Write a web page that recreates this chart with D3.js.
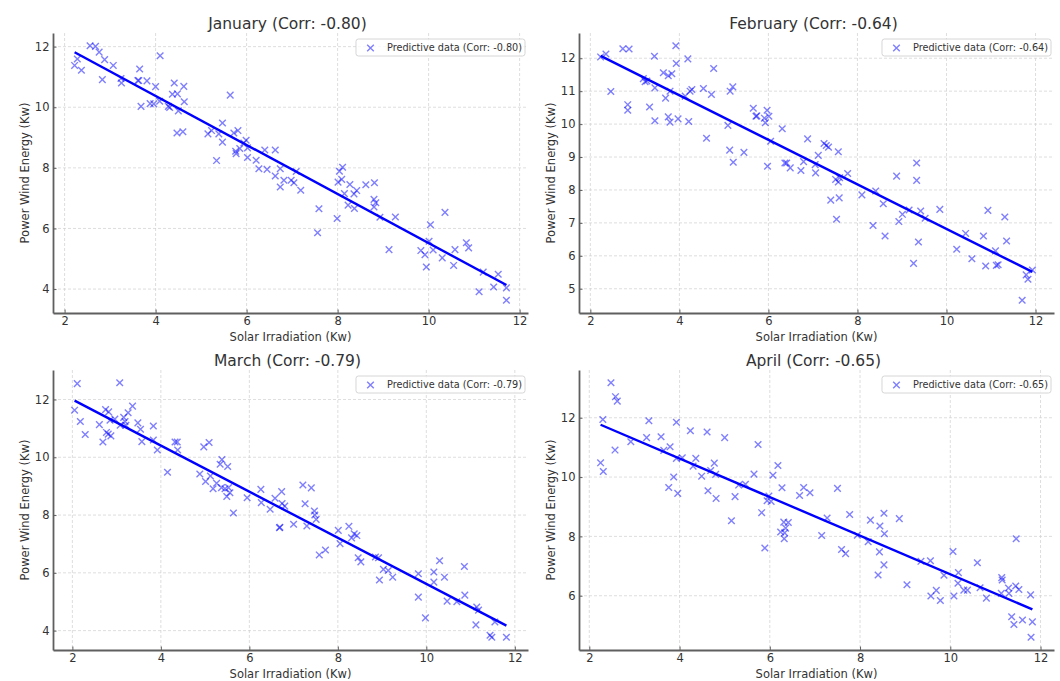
<!DOCTYPE html>
<html>
<head>
<meta charset="utf-8">
<script src="https://cdn.jsdelivr.net/npm/d3@7"></script>
<style>
  body { margin: 0; background: #fff; }
  text { font-family: "DejaVu Sans", sans-serif; fill: #333; }
  .grid line { stroke: #d0d0d0; stroke-width: 0.7; stroke-dasharray: 3,2; }
  .axis path, .axis line { stroke: #5f5f5f; }
  .axis path { stroke-width: 1.8; }
  .axis text { font-size: 11.5px; fill: #333; }
</style>
</head>
<body>
<div id="chart"></div>
<script>
// month names and correlation shown in title / legend
const months = ['January', 'February', 'March', 'April'];
const corrs = ['-0.80', '-0.64', '-0.79', '-0.65'];

// tick labels
const xTicks = [2, 4, 6, 8, 10, 12];
const yTicksJan = [4, 6, 8, 10, 12];
const yTicksFeb = [5, 6, 7, 8, 9, 10, 11, 12];
const yTicksMar = [4, 6, 8, 10, 12];
const yTicksApr = [6, 8, 10, 12];

// January: solar irradiation (x) and wind energy (y)
const janSolar = [2.22, 2.28, 2.37, 2.56, 2.68, 2.76, 2.88, 2.83, 3.07, 3.24, 3.25, 3.61, 3.63, 3.65, 3.68, 3.81,
  3.88, 3.96, 4.00, 4.10, 4.09, 4.28, 4.31, 4.37, 4.41, 4.48, 4.50, 4.62, 4.63, 4.47, 4.60, 5.15, 5.23, 5.34, 5.39,
  5.47, 5.47, 5.64, 5.72, 5.76, 5.77, 5.81, 5.85, 5.94, 5.99, 6.02, 6.02, 6.21, 6.27, 6.40, 6.45, 6.63, 6.63, 6.74,
  6.74, 6.82, 6.98, 7.04, 7.09, 7.19, 7.59, 7.56, 7.99, 8.01, 8.04, 8.11, 8.09, 8.15, 8.23, 8.27, 8.36, 8.42, 8.37,
  8.62, 8.81, 8.80, 8.84, 8.80, 8.93, 9.27, 9.13, 10.04, 10.36, 10.01, 9.83, 9.92, 9.95, 10.10, 10.30, 10.58, 10.55,
  10.83, 10.88, 11.20, 11.11, 11.43, 11.53, 11.71, 11.71];
const janWind = [11.38, 11.59, 11.22, 12.03, 12.01, 11.82, 11.57, 10.91, 11.38, 10.95, 10.80, 10.88, 10.88, 11.26,
  10.03, 10.87, 10.12, 10.11, 10.68, 11.70, 10.20, 10.03, 9.99, 10.43, 10.80, 10.44, 9.88, 10.69, 10.18, 9.15, 9.19,
  9.12, 9.23, 8.24, 9.12, 9.48, 8.85, 10.40, 9.15, 8.55, 8.47, 9.23, 8.64, 8.82, 8.91, 8.66, 8.34, 8.25, 7.97, 8.59,
  7.95, 8.59, 7.73, 7.97, 7.37, 7.59, 7.59, 7.51, 7.88, 7.26, 6.65, 5.86, 6.33, 7.53, 7.89, 8.02, 7.62, 7.15, 6.77,
  7.45, 7.14, 7.25, 6.66, 7.44, 7.51, 6.96, 6.85, 6.71, 6.37, 6.38, 5.30, 6.12, 6.53, 5.58, 5.27, 5.13, 4.73, 5.29,
  5.03, 5.30, 4.78, 5.53, 5.36, 4.56, 3.91, 4.07, 4.49, 4.04, 3.63];

// February
const febSolar = [2.23, 2.35, 2.46, 2.73, 2.87, 2.84, 2.84, 3.19, 3.23, 3.27, 3.33, 3.44, 3.45, 3.45, 3.64, 3.69,
  3.75, 3.83, 3.79, 3.75, 3.79, 3.92, 3.93, 3.97, 4.13, 4.19, 4.21, 4.24, 4.28, 4.54, 4.72, 4.77, 4.61, 5.09, 5.14,
  5.20, 5.13, 5.21, 5.45, 5.66, 5.72, 5.74, 5.91, 5.93, 5.97, 6.01, 5.98, 6.05, 6.31, 6.37, 6.41, 6.49, 6.73, 6.79,
  6.88, 7.06, 7.12, 7.05, 7.25, 7.30, 7.35, 7.40, 7.53, 7.57, 7.51, 7.57, 7.59, 7.60, 7.78, 8.10, 8.41, 8.35, 8.58,
  8.62, 8.88, 8.93, 9.01, 9.16, 9.33, 9.33, 9.26, 9.37, 9.42, 9.52, 9.85, 10.23, 10.43, 10.57, 10.83, 10.88, 10.93,
  11.10, 11.12, 11.16, 11.31, 11.35, 11.70, 11.79, 11.83, 11.93];
const febWind = [12.04, 12.13, 10.99, 12.29, 12.28, 10.59, 10.42, 11.38, 11.29, 11.31, 10.52, 12.06, 11.10, 10.10,
  11.56, 10.79, 11.47, 11.53, 11.00, 10.22, 10.06, 12.38, 11.84, 10.16, 10.85, 11.98, 10.08, 11.00, 11.05, 11.08,
  10.90, 11.69, 9.57, 9.96, 11.00, 11.13, 9.21, 8.84, 9.14, 10.48, 10.24, 10.25, 10.18, 10.04, 10.42, 10.24, 8.72,
  9.48, 9.86, 8.82, 8.82, 8.67, 8.59, 8.86, 9.55, 8.52, 9.05, 8.77, 9.41, 9.35, 9.30, 7.69, 7.11, 9.16, 8.32, 8.24,
  7.76, 8.37, 8.50, 7.85, 7.97, 6.92, 7.58, 6.60, 8.42, 7.04, 7.26, 7.39, 8.82, 8.29, 5.77, 6.42, 7.36, 7.14, 7.41,
  6.20, 6.68, 5.91, 6.60, 5.69, 7.38, 6.15, 5.71, 5.73, 7.18, 6.45, 4.65, 5.42, 5.29, 5.57];

// March
const marSolar = [2.05, 2.11, 2.18, 2.29, 2.61, 2.69, 2.75, 2.82, 2.77, 2.81, 2.87, 2.85, 2.96, 3.07, 3.08, 3.16,
  3.19, 3.21, 3.26, 3.36, 3.48, 3.54, 3.57, 3.83, 3.83, 3.92, 4.32, 4.37, 4.38, 4.15, 4.88, 4.97, 5.09, 5.01, 5.12,
  5.18, 5.26, 5.34, 5.38, 5.37, 5.45, 5.51, 5.49, 5.53, 5.56, 5.64, 5.95, 6.26, 6.27, 6.47, 6.58, 6.68, 6.69, 6.73,
  6.74, 6.80, 7.00, 7.21, 7.40, 7.26, 7.30, 7.47, 7.48, 7.51, 7.58, 7.72, 8.01, 8.05, 8.25, 8.31, 8.37, 8.43, 8.46,
  8.52, 8.85, 8.92, 8.94, 9.03, 9.14, 9.24, 9.82, 9.82, 9.98, 10.17, 10.17, 10.30, 10.41, 10.47, 10.69, 10.86,
  10.87, 11.14, 11.18, 11.12, 11.55, 11.44, 11.48, 11.81];
const marWind = [11.63, 12.55, 11.24, 10.79, 11.13, 10.53, 11.65, 11.57, 10.86, 10.80, 10.74, 11.28, 11.32, 12.58,
  11.11, 11.38, 11.24, 11.11, 11.54, 11.77, 11.19, 10.97, 10.54, 11.08, 10.60, 10.25, 10.53, 10.53, 10.25, 9.48,
  9.42, 10.36, 10.51, 9.16, 9.35, 8.91, 9.10, 9.76, 9.92, 8.95, 8.91, 9.68, 8.64, 8.95, 8.77, 8.07, 8.60, 8.89, 8.43,
  8.20, 8.58, 7.56, 7.58, 8.81, 8.40, 8.31, 7.68, 9.04, 8.94, 8.39, 7.62, 8.14, 8.00, 7.85, 6.62, 6.79, 7.47, 7.01,
  7.61, 7.21, 7.35, 7.29, 6.52, 6.38, 6.55, 6.52, 5.75, 6.12, 6.08, 5.85, 5.97, 5.16, 4.44, 6.03, 5.68, 6.42, 5.85,
  5.02, 5.00, 6.22, 5.23, 4.82, 4.71, 4.20, 4.30, 3.84, 3.77, 3.77];

// April
const aprSolar = [2.48, 2.58, 2.62, 2.30, 2.25, 2.31, 2.57, 2.92, 3.27, 3.32, 3.59, 3.65, 3.79, 3.93, 3.87, 3.76,
  3.93, 3.96, 4.06, 4.24, 4.36, 4.30, 4.49, 4.61, 4.63, 4.69, 4.77, 4.80, 4.81, 5.00, 5.15, 5.23, 5.31, 5.46, 5.65,
  5.74, 5.82, 5.89, 5.94, 5.98, 6.03, 6.07, 6.18, 6.27, 6.24, 6.31, 6.35, 6.33, 6.32, 6.41, 6.66, 6.75, 6.89, 7.15,
  7.50, 7.27, 7.59, 7.68, 7.77, 7.94, 8.18, 8.23, 8.44, 8.53, 8.54, 8.43, 8.53, 8.40, 8.87, 9.04, 9.35, 9.56, 9.57,
  9.69, 9.78, 9.86, 10.06, 10.08, 10.18, 10.17, 10.30, 10.38, 10.60, 10.66, 10.80, 11.14, 11.15, 11.13, 11.29, 11.30,
  11.45, 11.52, 11.46, 11.36, 11.41, 11.60, 11.78, 11.82, 11.79];
const aprWind = [13.18, 12.71, 12.56, 11.94, 10.48, 10.19, 10.91, 11.19, 11.33, 11.90, 11.36, 10.90, 11.02, 11.85,
  10.00, 9.65, 10.63, 9.45, 10.65, 11.56, 10.63, 10.37, 10.03, 11.52, 9.54, 10.22, 10.47, 10.09, 9.28, 11.33, 8.53,
  9.34, 9.73, 9.76, 10.10, 11.10, 8.80, 7.61, 9.20, 9.36, 9.18, 10.06, 10.39, 9.64, 8.15, 8.48, 8.28, 8.12, 7.92,
  8.47, 9.38, 9.65, 9.47, 8.03, 9.62, 8.62, 7.56, 7.42, 8.74, 8.04, 7.82, 8.55, 8.35, 8.78, 8.09, 7.48, 7.04, 6.70,
  8.60, 6.37, 7.16, 7.18, 5.99, 6.18, 5.84, 6.69, 7.49, 5.99, 6.78, 6.42, 6.19, 6.19, 7.11, 6.27, 5.92, 6.61, 6.53,
  6.08, 6.26, 6.08, 6.33, 6.21, 7.92, 5.29, 5.03, 5.18, 6.03, 5.12, 4.60];

const solar = [janSolar, febSolar, marSolar, aprSolar];
const wind = [janWind, febWind, marWind, aprWind];
const yTicks = [yTicksJan, yTicksFeb, yTicksMar, yTicksApr];

// Layout
const width = 1060;
const height = 681;
const colLeft = [53, 579];
const rowTop = [33, 370];
const plotW = 475;
const plotH = 280;

const svg = d3.select('#chart')
  .append('svg')
  .attr('width', width)
  .attr('height', height);

// padded extent, like matplotlib's 5% autoscale margin
function padded(values) {
  const [lo, hi] = d3.extent(values);
  const pad = (hi - lo) * 0.05;
  return [lo - pad, hi + pad];
}

function linearFit(xs, ys) {
  const mx = d3.mean(xs);
  const my = d3.mean(ys);
  let num = 0, den = 0;
  xs.forEach((x, i) => {
    num += (x - mx) * (ys[i] - my);
    den += (x - mx) * (x - mx);
  });
  const slope = num / den;
  return { slope, intercept: my - slope * mx };
}

const cross = 'M-3.3,-3.3L3.3,3.3M-3.3,3.3L3.3,-3.3';

months.forEach((month, i) => {
  const left = colLeft[i % 2];
  const top = rowTop[Math.floor(i / 2)];
  const xs = solar[i];
  const ys = wind[i];
  const points = xs.map((x, k) => ({ x, y: ys[k] }));

  const xScale = d3.scaleLinear().domain(padded(xs)).range([0, plotW]);
  const yScale = d3.scaleLinear().domain(padded(ys)).range([plotH, 0]);

  const g = svg.append('g').attr('transform', `translate(${left},${top})`);

  // gridlines
  const grid = g.append('g').attr('class', 'grid');
  grid.selectAll('.gx')
    .data(xTicks)
    .join('line')
    .attr('x1', (d) => xScale(d)).attr('x2', (d) => xScale(d))
    .attr('y1', 0).attr('y2', plotH);
  grid.selectAll('.gy')
    .data(yTicks[i])
    .join('line')
    .attr('x1', 0).attr('x2', plotW)
    .attr('y1', (d) => yScale(d)).attr('y2', (d) => yScale(d));

  // scatter points
  g.append('g')
    .selectAll('path')
    .data(points)
    .join('path')
    .attr('d', cross)
    .attr('transform', (d) => `translate(${xScale(d.x)},${yScale(d.y)})`)
    .attr('fill', 'none')
    .attr('stroke', 'blue')
    .attr('stroke-opacity', 0.5)
    .attr('stroke-width', 1.4);

  // regression line
  const fit = linearFit(xs, ys);
  const [xMin, xMax] = d3.extent(xs);
  const line = d3.line()
    .x((d) => xScale(d))
    .y((d) => yScale(fit.intercept + fit.slope * d));
  g.append('path')
    .datum([xMin, xMax])
    .attr('d', line)
    .attr('fill', 'none')
    .attr('stroke', 'blue')
    .attr('stroke-width', 2.4);

  // axes
  g.append('g')
    .attr('class', 'axis')
    .attr('transform', `translate(0,${plotH})`)
    .call(d3.axisBottom(xScale).tickValues(xTicks).tickSizeInner(-3.5).tickSizeOuter(0).tickPadding(4));

  g.append('g')
    .attr('class', 'axis')
    .call(d3.axisLeft(yScale).tickValues(yTicks[i]).tickSizeInner(-3.5).tickSizeOuter(0).tickPadding(3.5));

  // titles and labels
  g.append('text')
    .attr('x', plotW / 2 - 3)
    .attr('y', -4.5)
    .attr('text-anchor', 'middle')
    .style('font-size', '15.5px')
    .text(`${month} (Corr: ${corrs[i]})`);

  g.append('text')
    .attr('x', plotW / 2)
    .attr('y', plotH + 27.5)
    .attr('text-anchor', 'middle')
    .style('font-size', '11.5px')
    .text('Solar Irradiation (Kw)');

  g.append('text')
    .attr('transform', `translate(-24.5,${plotH / 2}) rotate(-90)`)
    .attr('text-anchor', 'middle')
    .style('font-size', '11.5px')
    .text('Power Wind Energy (Kw)');

  // legend
  const legend = g.append('g');
  const box = legend.append('rect')
    .attr('y', 6)
    .attr('height', 17)
    .attr('rx', 2.5)
    .attr('fill', 'white')
    .attr('fill-opacity', 0.8)
    .attr('stroke', '#cccccc')
    .attr('stroke-width', 0.8);
  const label = legend.append('text')
    .attr('y', 18)
    .style('font-size', '9.7px')
    .style('fill', '#333')
    .text(`Predictive data (Corr: ${corrs[i]})`);
  const textLen = label.node().getComputedTextLength();
  const boxW = textLen + 34;
  const boxX = plotW - 3 - boxW;
  box.attr('x', boxX).attr('width', boxW);
  label.attr('x', boxX + 31);
  legend.append('path')
    .attr('d', cross)
    .attr('transform', `translate(${boxX + 14.5},${15})`)
    .attr('fill', 'none')
    .attr('stroke', 'blue')
    .attr('stroke-opacity', 0.5)
    .attr('stroke-width', 1.4);
});
</script>
</body>
</html>
